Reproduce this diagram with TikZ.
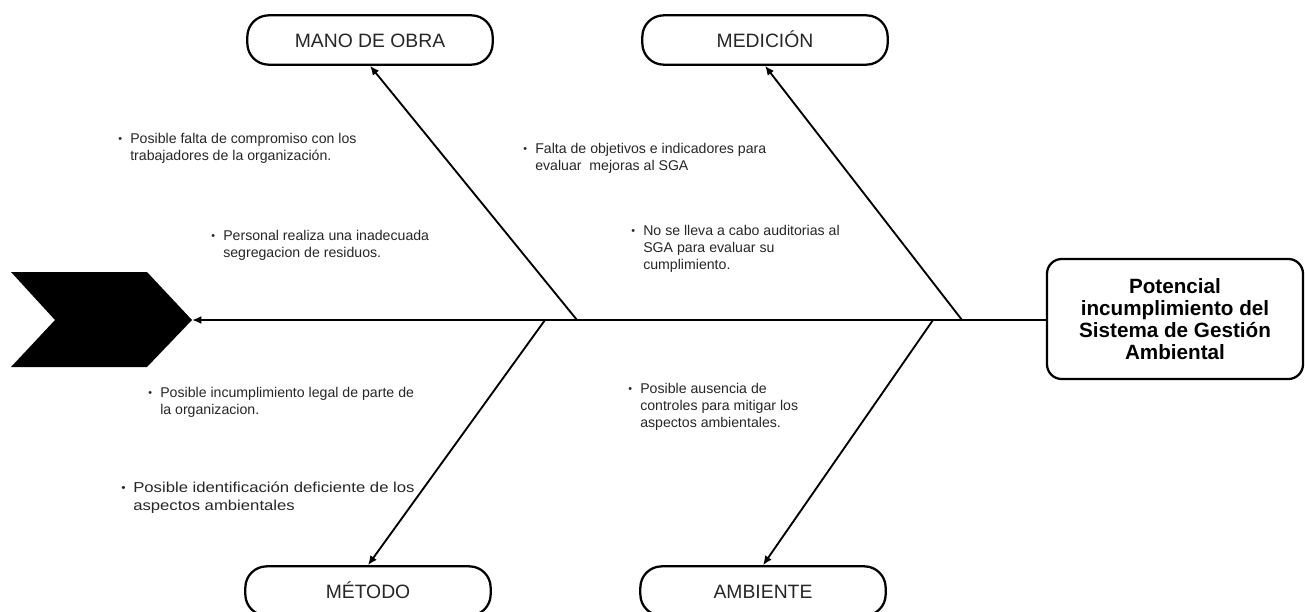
\documentclass[tikz,border=0pt]{standalone}
\usepackage{fontspec}
\setmainfont{Liberation Sans}
\newfontfamily\ancha[FakeStretch=1.16]{Liberation Sans}
\usetikzlibrary{arrows.meta}

\newcommand{\causa}[1]{\makebox[9pt][l]{\raisebox{0.4pt}{\footnotesize\textbullet}}\begin{tabular}[t]{@{}l@{}}#1\end{tabular}}

\tikzset{
  efecto/.style={draw, line width=1.7pt, rounded corners=11pt, minimum width=192pt, minimum height=90pt,
    align=center, font=\fontsize{15.5}{16.5}\selectfont\bfseries},
  categoria/.style={draw, line width=1.7pt, rounded corners=16pt, minimum width=184pt, minimum height=37pt,
    text height=10.5pt, text depth=0pt, font=\fontsize{14.5}{17}\selectfont, text=black!85},
  causa/.style={anchor=base west, inner sep=0pt, font=\fontsize{10.6}{12.9}\selectfont, text=black!85},
  espina/.style={line width=1.4pt, -{Latex[length=7pt,width=6pt]}},
}

\begin{document}
\begin{tikzpicture}[x=0.75pt, y=-0.75pt, auto]
\useasboundingbox (0,0) rectangle (1305,611);
\node[efecto] (EFECTO) at (1175,319) {Potencial\\incumplimiento del\\Sistema de Gestión\\Ambiental};
\node[categoria] (MANO) at (370,40) {MANO DE OBRA};
\node[categoria] (MEDICION) at (765,40) {MEDICIÓN};
\node[categoria] (METODO) at (368,591) {MÉTODO};
\node[categoria] (AMBIENTE) at (763,591) {AMBIENTE};

% cabeza del pescado
\coordinate (PUNTA) at (192,320);
\fill (11,272) -- (147,272) -- (PUNTA) -- (147,367) -- (11,367) -- (55,320) -- cycle;

\coordinate (J1) at (577,320);
\coordinate (J2) at (962,320);
\coordinate (J3) at (545,320);
\coordinate (J4) at (933,320);
\draw[espina] (EFECTO.west |- PUNTA) -- (PUNTA);
\draw[espina] (J1) -- (MANO.south);
\draw[espina] (J2) -- (MEDICION.south);
\draw[espina] (J3) -- (METODO.north);
\draw[espina] (J4) -- (AMBIENTE.north);

% causas
\node[causa] (C1) at (118,143) {\causa{Posible falta de compromiso con los\\trabajadores de la organización.}};
\node[causa] (C2) at (211,240) {\causa{Personal realiza una inadecuada\\segregacion de residuos.}};
\node[causa] (C3) at (523,153) {\causa{Falta de objetivos e indicadores para\\evaluar\ \ mejoras al SGA}};
\node[causa] (C4) at (631,235) {\causa{No se lleva a cabo auditorias al\\SGA para evaluar su\\cumplimiento.}};
\node[causa] (C5) at (148,397) {\causa{Posible incumplimiento legal de parte de\\la organizacion.}};
\node[causa, font=\fontsize{10.8}{13.6}\ancha] (C6) at (121,492) {\causa{Posible identificación deficiente de los\\aspectos ambientales}};
\node[causa] (C7) at (628,393) {\causa{Posible ausencia de\\controles para mitigar los\\aspectos ambientales.}};
\end{tikzpicture}
\end{document}
